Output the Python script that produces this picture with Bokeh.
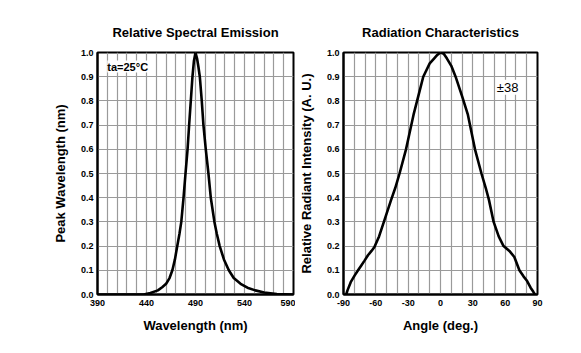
from bokeh.plotting import figure
from bokeh.models import Range1d, FixedTicker, PrintfTickFormatter, Label
from bokeh.layouts import row
from bokeh.embed import file_html
from bokeh.resources import INLINE

# ---- data ----
wavelength = [390, 420, 437, 444, 451.6, 456, 460, 463.5, 466.4, 469, 471.4, 473.6,
              475.5, 477.8, 479.8, 481.9, 483.5, 485.2, 486.9, 488.4, 490, 491.6, 493,
              494.4, 496.4, 498.1, 500.5, 503.2, 505.6, 509.3, 511.8, 514.7, 519, 524,
              529, 536, 543, 551, 560, 573, 590]
emission = [0, 0, 0, 0.006, 0.017, 0.03, 0.044, 0.068, 0.1, 0.145, 0.2, 0.25,
            0.3, 0.4, 0.5, 0.6, 0.7, 0.8, 0.9, 0.965, 1.0, 0.975, 0.94,
            0.9, 0.8, 0.7, 0.6, 0.5, 0.4, 0.3, 0.25, 0.2, 0.145, 0.1,
            0.068, 0.044, 0.028, 0.017, 0.008, 0.0015, 0]

angle = [-87.5, -86.3, -83.3, -79.6, -76.5, -73.5, -70.5, -67.3, -64, -61.3, -57, -52,
         -45.9, -42, -38, -32, -25, -20, -16, -10, -6, -3, 0, 3, 6, 10, 14, 20, 25.4,
         32, 38, 42, 45, 49.3, 54, 58.5, 63.9, 68.5, 73.2, 77, 80, 83.6, 86, 87.6]
intensity = [0, 0.017, 0.051, 0.079, 0.1, 0.12, 0.14, 0.162, 0.18, 0.196, 0.24, 0.307,
             0.39, 0.44, 0.5, 0.6, 0.743, 0.83, 0.9, 0.955, 0.975, 0.99, 1.0, 0.995, 0.975,
             0.945, 0.9, 0.82, 0.743, 0.6, 0.5, 0.44, 0.39, 0.3, 0.24, 0.2, 0.18, 0.155,
             0.1, 0.075, 0.058, 0.028, 0.012, 0]

y_ticks = [0.0, 0.1, 0.2, 0.3, 0.4, 0.5, 0.6, 0.7, 0.8, 0.9, 1.0]
wl_ticks = [390, 440, 490, 540, 590]
wl_grid = [390, 400, 410, 420, 430, 440, 450, 460, 470, 480, 490, 500, 510, 520,
           530, 540, 550, 560, 570, 580, 590]
ang_ticks = [-90, -60, -30, 0, 30, 60, 90]
ang_grid = [-90, -80, -70, -60, -50, -40, -30, -20, -10, 0, 10, 20, 30, 40, 50,
            60, 70, 80, 90]

FONT = "Liberation Sans"
GRID = "#9a9a9a"


def style(p, xticks, xgrid):
    p.title.text_font = FONT
    p.title.text_font_size = "13px"
    p.title.text_font_style = "bold"
    p.title.align = "center"
    p.title.text_color = "black"
    p.title.standoff = 25
    p.outline_line_color = "black"
    p.outline_line_width = 2
    p.background_fill_color = "white"
    p.border_fill_color = "white"

    p.xaxis.ticker = FixedTicker(ticks=xticks)
    p.xaxis.formatter = PrintfTickFormatter(format="%d")
    p.yaxis.ticker = FixedTicker(ticks=y_ticks)
    p.yaxis.formatter = PrintfTickFormatter(format="%.1f")
    p.xgrid.ticker = FixedTicker(ticks=xgrid)
    p.ygrid.ticker = FixedTicker(ticks=y_ticks)
    for g in (p.xgrid, p.ygrid):
        g.grid_line_color = GRID
        g.grid_line_width = 1.2

    for ax in (p.xaxis, p.yaxis):
        ax.axis_line_color = "black"
        ax.axis_line_width = 2
        ax.major_tick_out = 0
        ax.major_tick_in = 0
        ax.minor_tick_out = 0
        ax.minor_tick_in = 0
        ax.major_label_text_font = FONT
        ax.major_label_text_font_style = "bold"
        ax.major_label_text_color = "black"
        ax.axis_label_text_font = FONT
        ax.axis_label_text_font_size = "13px"
        ax.axis_label_text_font_style = "bold"
        ax.axis_label_text_color = "black"
    p.xaxis.major_label_text_font_size = "9px"
    p.yaxis.major_label_text_font_size = "9px"
    p.xaxis.major_label_standoff = 5
    p.yaxis.major_label_standoff = 4
    p.xaxis.axis_label_standoff = 9
    p.yaxis.axis_label_standoff = 10


p1 = figure(width=295, height=353, output_backend="svg", toolbar_location=None,
            title="Relative Spectral Emission",
            x_range=Range1d(390, 590), y_range=Range1d(0, 1.0),
            min_border_left=97, min_border_right=2, min_border_top=52,
            min_border_bottom=59)
style(p1, wl_ticks, wl_grid)
p1.xaxis.axis_label = "Wavelength (nm)"
p1.yaxis.axis_label = "Peak Wavelength (nm)"
p1.line(wavelength, emission, line_color="black", line_width=2.6)
p1.add_layout(Label(x=400, y=0.942, text="ta=25°C", text_font=FONT,
                    text_font_size="11px", text_font_style="bold",
                    text_baseline="middle", text_color="black",
                    background_fill_color="white"))

p2 = figure(width=286, height=353, output_backend="svg", toolbar_location=None,
            title="Radiation Characteristics",
            x_range=Range1d(-90, 90), y_range=Range1d(0, 1.0),
            min_border_left=45, min_border_right=44, min_border_top=52,
            min_border_bottom=59)
style(p2, ang_ticks, ang_grid)
p2.xaxis.axis_label = "Angle (deg.)"
p2.yaxis.axis_label = "Relative Radiant Intensity (A. U.)"
p2.line(angle, intensity, line_color="black", line_width=2.6)
p2.add_layout(Label(x=62.3, y=0.856, text="±38", text_font=FONT,
                    text_font_size="13px", text_align="center",
                    text_baseline="middle", text_color="black",
                    background_fill_color="white"))

layout = row(p1, p2, spacing=0)
open("out.html", "w").write(file_html(layout, INLINE))
